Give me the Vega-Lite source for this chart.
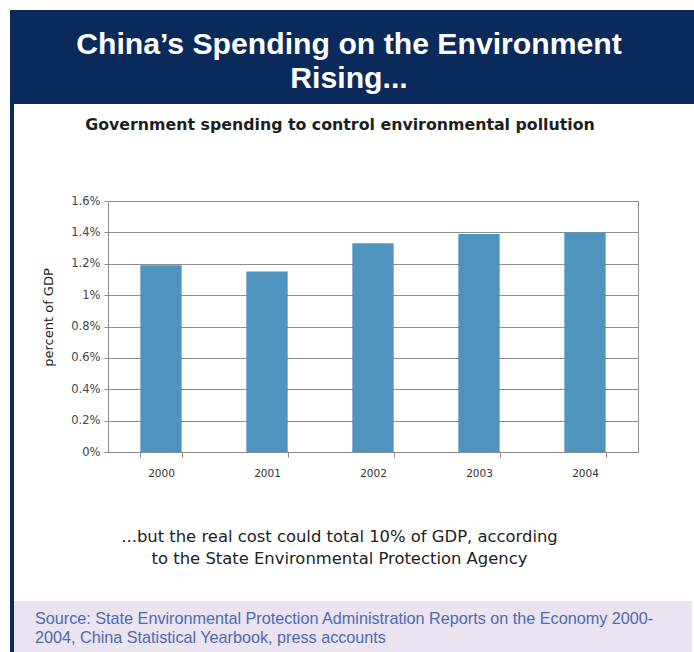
{
  "$schema": "https://vega.github.io/schema/vega-lite/v6.json",
  "background": "white",
  "padding": {"left": 10, "top": 10, "right": 0, "bottom": 0},
  "datasets": {
    "spending": [
      {"year": "2000", "pct_gdp": 1.19},
      {"year": "2001", "pct_gdp": 1.15},
      {"year": "2002", "pct_gdp": 1.33},
      {"year": "2003", "pct_gdp": 1.39},
      {"year": "2004", "pct_gdp": 1.40}
    ],
    "headline": [
      {"headline": "China’s Spending on the Environment\nRising..."}
    ]
  },
  "config": {
    "view": {"stroke": null},
    "font": "DejaVu Sans"
  },
  "spacing": 0,
  "hconcat": [
    {
      "width": 4,
      "height": 642,
      "data": {"name": "headline"},
      "mark": {"type": "text"},
      "encoding": {"text": {"value": ""}},
      "view": {"fill": "#0b2a5c", "stroke": null}
    },
    {
      "spacing": 12,
      "vconcat": [
        {
          "width": 680,
          "height": 94,
          "data": {"name": "headline"},
          "view": {"fill": "#0b2a5c", "stroke": null},
          "mark": {
            "type": "text",
            "color": "white",
            "font": "Liberation Sans",
            "fontSize": 30.2,
            "fontWeight": "bold",
            "align": "center",
            "baseline": "middle",
            "lineBreak": "\n",
            "lineHeight": 34,
            "dy": -12.5,
            "dx": -5
          },
          "encoding": {
            "text": {"field": "headline"}
          }
        },
        {
          "spacing": 26,
          "hconcat": [
            {
              "width": 1,
              "height": 388,
              "data": {"name": "headline"},
              "mark": {"type": "text"},
              "encoding": {"text": {"value": ""}},
              "view": {"stroke": null}
            },
            {
              "width": 530,
              "height": 251,
              "data": {"name": "spending"},
              "view": {"stroke": "#8c8c8c", "strokeWidth": 1},
              "title": {
                "text": "Government spending to control environmental pollution",
                "font": "DejaVu Sans",
                "fontSize": 15.8,
                "fontWeight": "bold",
                "color": "#1e1e1e",
                "anchor": "middle",
                "frame": "bounds",
                "offset": 61
              },
              "mark": {"type": "bar", "color": "#4f93bf"},
              "encoding": {
                "x": {
                  "field": "year",
                  "type": "ordinal",
                  "scale": {"paddingInner": 0.61, "paddingOuter": 0.305},
                  "axis": {
                    "title": [
                      "...but the real cost could total 10% of GDP, according",
                      "to the State Environmental Protection Agency"
                    ],
                    "labelAngle": 0,
                    "tickBand": "extent",
                    "tickSize": 5,
                    "labelPadding": 11,
                    "labelFont": "DejaVu Sans",
                    "labelFontSize": 10.5,
                    "labelColor": "#333333",
                    "domainColor": "#8c8c8c",
                    "tickColor": "#8c8c8c",
                    "titleFont": "DejaVu Sans",
                    "titleFontSize": 16.4,
                    "titleFontWeight": "normal",
                    "titleColor": "#222222",
                    "titleX": 231,
                    "titleY": 89,
                    "titleAlign": "center",
                    "titleBaseline": "alphabetic",
                    "titleLineHeight": 22
                  }
                },
                "y": {
                  "field": "pct_gdp",
                  "type": "quantitative",
                  "scale": {"domain": [0, 1.6], "nice": false},
                  "axis": {
                    "title": "percent of GDP",
                    "values": [0, 0.2, 0.4, 0.6, 0.8, 1, 1.2, 1.4, 1.6],
                    "labelExpr": "format(datum.value, '.1~f') + '%'",
                    "grid": true,
                    "gridColor": "#8c8c8c",
                    "gridOpacity": 1,
                    "domainColor": "#8c8c8c",
                    "tickColor": "#8c8c8c",
                    "tickSize": 4,
                    "labelPadding": 4,
                    "labelFont": "DejaVu Sans",
                    "labelFontSize": 11.5,
                    "labelColor": "#444444",
                    "titleFont": "DejaVu Sans",
                    "titleFontSize": 13,
                    "titleFontWeight": "normal",
                    "titleColor": "#222222",
                    "titleX": -60,
                    "titleY": 116,
                    "titleAngle": 270,
                    "titleAlign": "center",
                    "titleBaseline": "middle"
                  }
                }
              }
            }
          ]
        },
        {
          "width": 678,
          "height": 52,
          "data": {"name": "headline"},
          "mark": {"type": "text"},
          "encoding": {"text": {"value": ""}},
          "view": {"fill": "#ebe3ef", "stroke": null},
          "title": {
            "text": [
              "Source: State Environmental Protection Administration Reports on the Economy 2000-",
              "2004, China Statistical Yearbook, press accounts"
            ],
            "orient": "top",
            "anchor": "start",
            "offset": -45,
            "baseline": "top",
            "dx": 21,
            "font": "Liberation Sans",
            "fontSize": 16.2,
            "fontWeight": "normal",
            "color": "#4a6bb3",
            "lineHeight": 19
          }
        }
      ]
    }
  ]
}
